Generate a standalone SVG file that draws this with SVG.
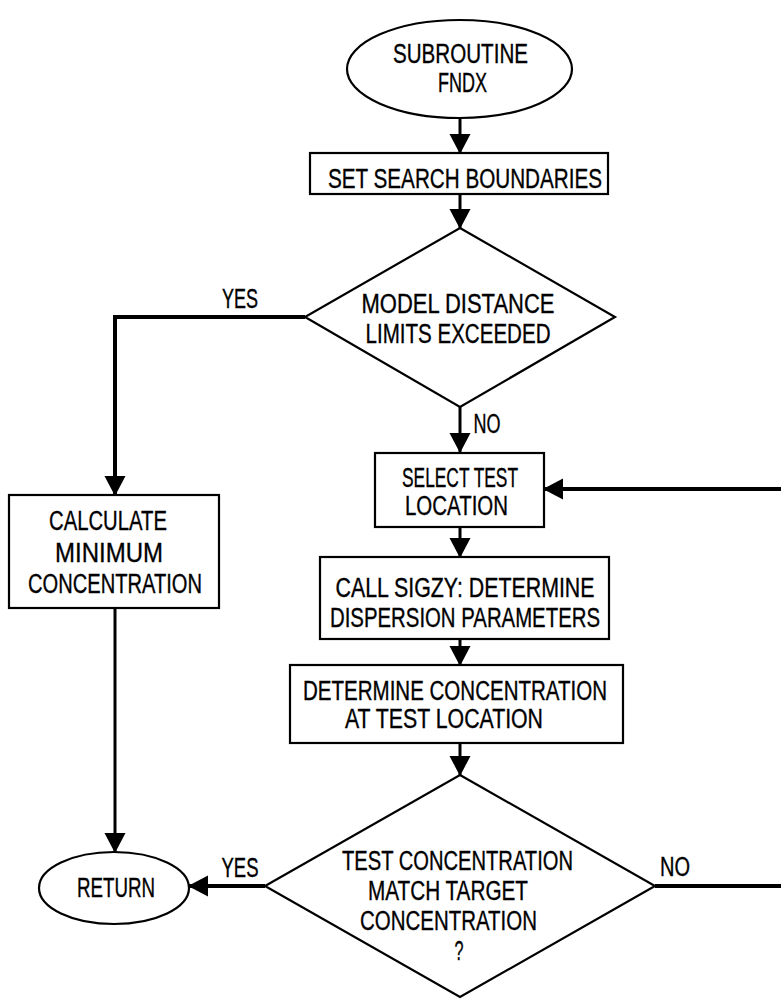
<svg xmlns="http://www.w3.org/2000/svg" width="781" height="1000" viewBox="0 0 781 1000">
  <style>
    .shape { fill: #fff; stroke: #000; stroke-width: 2.2; }
    .lbl { font-family: "Liberation Sans", Arial, sans-serif; font-size: 27px; fill: #000; stroke: #000; stroke-width: 0.35; text-anchor: middle; }
    .edge { fill: none; stroke: #000; stroke-width: 3; }
    .thick { stroke-width: 4; }
  </style>
  <defs>
    <marker id="arrow" markerUnits="userSpaceOnUse" markerWidth="20" markerHeight="22" refX="19" refY="10.5" orient="auto" viewBox="0 0 20 21">
      <path d="M0,0 L20,10.5 L0,21 z" fill="#000"/>
    </marker>
  </defs>
  <rect width="781" height="1000" fill="#fff"/>

  <!-- connectors -->
  <g id="connectors">
    <path class="edge" d="M460,118 V153" marker-end="url(#arrow)"/>
    <path class="edge" d="M460,194 V228" marker-end="url(#arrow)"/>
    <path class="edge thick" d="M305,317 H115 V495" marker-end="url(#arrow)"/>
    <path class="edge" d="M460,407 V452" marker-end="url(#arrow)"/>
    <path class="edge" d="M460,527 V557" marker-end="url(#arrow)"/>
    <path class="edge" d="M460,639 V665" marker-end="url(#arrow)"/>
    <path class="edge" d="M460,743 V775" marker-end="url(#arrow)"/>
    <path class="edge" d="M115,608 V852" marker-end="url(#arrow)"/>
    <path class="edge thick" d="M265,886 H189" marker-end="url(#arrow)"/>
    <!-- loop back: leaves the page on the right and re-enters above -->
    <path class="edge thick" d="M655,886 H795 V489 H544" marker-end="url(#arrow)"/>
    <text class="lbl" x="240" y="308" textLength="36" lengthAdjust="spacingAndGlyphs">YES</text>
    <text class="lbl" x="487" y="433" textLength="27" lengthAdjust="spacingAndGlyphs">NO</text>
    <text class="lbl" x="240" y="877" textLength="37" lengthAdjust="spacingAndGlyphs">YES</text>
    <text class="lbl" x="675" y="876" textLength="30" lengthAdjust="spacingAndGlyphs">NO</text>
  </g>

  <g id="start">
    <ellipse class="shape" cx="459.5" cy="69" rx="112.5" ry="49"/>
    <text class="lbl" x="460.5" y="63" textLength="135" lengthAdjust="spacingAndGlyphs">SUBROUTINE</text>
    <text class="lbl" x="462.5" y="92" textLength="49" lengthAdjust="spacingAndGlyphs">FNDX</text>
  </g>

  <g id="set-boundaries">
    <rect class="shape" x="310" y="153" width="298" height="41"/>
    <text class="lbl" x="465" y="188" textLength="274" lengthAdjust="spacingAndGlyphs">SET SEARCH BOUNDARIES</text>
  </g>

  <g id="limits-check">
    <polygon class="shape" points="460,228 615,317 460,407 305,317"/>
    <text class="lbl" x="458" y="313" textLength="193" lengthAdjust="spacingAndGlyphs">MODEL DISTANCE</text>
    <text class="lbl" x="458" y="343" textLength="185" lengthAdjust="spacingAndGlyphs">LIMITS EXCEEDED</text>
  </g>

  <g id="min-concentration">
    <rect class="shape" x="9" y="495" width="210" height="113"/>
    <text class="lbl" x="108" y="530" textLength="118" lengthAdjust="spacingAndGlyphs">CALCULATE</text>
    <text class="lbl" x="109" y="562" textLength="108" lengthAdjust="spacingAndGlyphs">MINIMUM</text>
    <text class="lbl" x="115" y="593" textLength="174" lengthAdjust="spacingAndGlyphs">CONCENTRATION</text>
  </g>

  <g id="select-location">
    <rect class="shape" x="375" y="453" width="169" height="74"/>
    <text class="lbl" x="460" y="487" textLength="116" lengthAdjust="spacingAndGlyphs">SELECT TEST</text>
    <text class="lbl" x="456.5" y="515" textLength="103" lengthAdjust="spacingAndGlyphs">LOCATION</text>
  </g>

  <g id="call-sigzy">
    <rect class="shape" x="320" y="557" width="289" height="82"/>
    <text class="lbl" x="465" y="597" textLength="259" lengthAdjust="spacingAndGlyphs">CALL SIGZY:  DETERMINE</text>
    <text class="lbl" x="465" y="627" textLength="270" lengthAdjust="spacingAndGlyphs">DISPERSION PARAMETERS</text>
  </g>

  <g id="test-concentration">
    <rect class="shape" x="290" y="665" width="333" height="78"/>
    <text class="lbl" x="455" y="700" textLength="304" lengthAdjust="spacingAndGlyphs">DETERMINE CONCENTRATION</text>
    <text class="lbl" x="444" y="728" textLength="198" lengthAdjust="spacingAndGlyphs">AT TEST LOCATION</text>
  </g>

  <g id="match-check">
    <polygon class="shape" points="460,775 655,886 460,997 265,886"/>
    <text class="lbl" x="457.5" y="870" textLength="231" lengthAdjust="spacingAndGlyphs">TEST CONCENTRATION</text>
    <text class="lbl" x="448" y="900" textLength="160" lengthAdjust="spacingAndGlyphs">MATCH  TARGET</text>
    <text class="lbl" x="448.5" y="930" textLength="177" lengthAdjust="spacingAndGlyphs">CONCENTRATION</text>
    <text class="lbl" x="459" y="960" textLength="9" lengthAdjust="spacingAndGlyphs">?</text>
  </g>

  <g id="return">
    <ellipse class="shape" cx="114" cy="888" rx="75" ry="36"/>
    <text class="lbl" x="116" y="897" textLength="78" lengthAdjust="spacingAndGlyphs">RETURN</text>
  </g>
</svg>
